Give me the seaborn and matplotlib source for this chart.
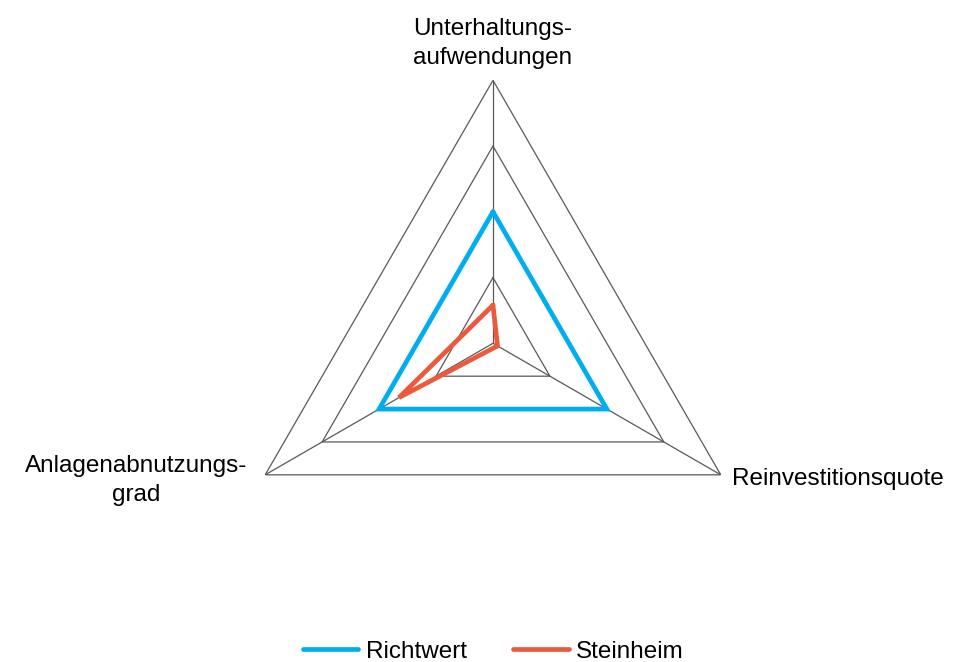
import numpy as np
import pandas as pd
import matplotlib.pyplot as plt
import seaborn as sns

# Kennzahlen (Achsen im Uhrzeigersinn ab oben)
kategorien = ['Unterhaltungs-\naufwendungen', 'Reinvestitionsquote', 'Anlagenabnutzungs-\ngrad']
richtwert = [2.0, 2.0, 2.0]
steinheim = [0.58, 0.08, 1.65]
reihen = ['Richtwert', 'Steinheim']
farben = ['#00aeef', '#ec5a3e']
stufen = [1, 2, 3, 4]

sns.set_theme(style='white')
plt.rcParams['font.family'] = ['Liberation Sans', 'DejaVu Sans']
plt.rcParams['text.color'] = 'black'

winkel = np.linspace(0, 2 * np.pi, len(kategorien), endpoint=False)
theta = np.append(winkel, winkel[0])

df = pd.DataFrame({
    'theta': np.tile(theta, 2),
    'wert': richtwert + [richtwert[0]] + steinheim + [steinheim[0]],
    'reihe': np.repeat(reihen, len(theta)),
})

fig = plt.figure(figsize=(9.67, 6.62), dpi=100)
ax = fig.add_axes([0.2378, 0.0841, 0.544, 0.7946], projection='polar')
ax.set_theta_offset(np.pi / 2)
ax.set_theta_direction(-1)

# Dreiecks-Gitter und Speichen
for s in stufen:
    ax.plot(theta, [s] * len(theta), color='#595959', lw=0.9, zorder=1)
for w in winkel:
    ax.plot([w, w], [0, stufen[-1]], color='#595959', lw=0.9, zorder=1)

sns.lineplot(data=df, x='theta', y='wert', hue='reihe', palette=farben,
             sort=False, estimator=None, lw=3.4, ax=ax, zorder=3,
             solid_joinstyle='miter')

ax.set_ylim(0, stufen[-1])
ax.grid(False)
ax.spines['polar'].set_visible(False)
ax.set_xticks([])
ax.set_yticks([])
ax.set_xlabel('')
ax.set_ylabel('')
ax.patch.set_alpha(0)

# Achsenbeschriftungen
fs = 17.5
ax.annotate(kategorien[0], xy=(winkel[0], stufen[-1]), xytext=(0, 8),
            textcoords='offset points', ha='center', va='bottom',
            multialignment='center', fontsize=fs, linespacing=1.4)
ax.annotate(kategorien[1], xy=(winkel[1], stufen[-1]), xytext=(8, -3),
            textcoords='offset points', ha='left', va='center', fontsize=fs)
ax.annotate(kategorien[2], xy=(winkel[2], stufen[-1]), xytext=(-13, -4),
            textcoords='offset points', ha='right', va='center',
            multialignment='center', fontsize=fs, linespacing=1.4)

handles, labels = ax.get_legend_handles_labels()
ax.get_legend().remove()
fig.legend(handles, labels, loc='lower center', bbox_to_anchor=(0.51, -0.034),
           ncol=2, frameon=False, fontsize=fs, handlelength=2.3,
           columnspacing=1.9, handletextpad=0.3)

fig.savefig('out.png', dpi=100)
